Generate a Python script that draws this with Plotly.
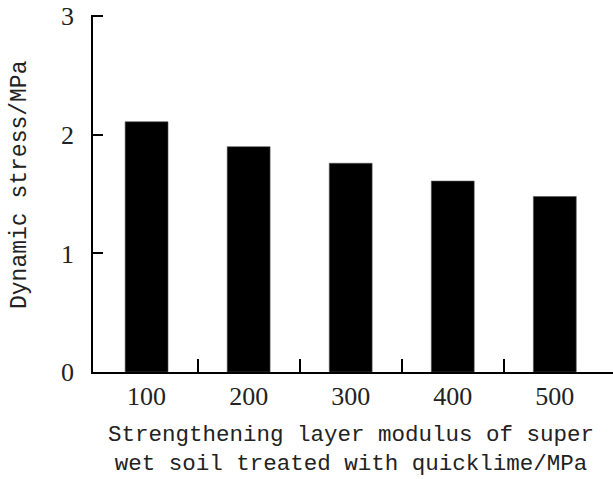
import plotly.graph_objects as go

categories = ["100", "200", "300", "400", "500"]
dynamic_stress = [2.11, 1.90, 1.76, 1.61, 1.48]
y_ticks = [0, 1, 2, 3]

x_pos = list(range(len(categories)))
dividers = [i + 0.5 for i in x_pos[:-1]]

PLOT_L, PLOT_R, PLOT_T, PLOT_B = 93, 613, 15, 372

fig = go.Figure()
fig.add_trace(go.Bar(
    x=x_pos, y=dynamic_stress, width=0.42,
    marker=dict(color="black", line=dict(color="#555", width=0.6)),
))

fig.update_layout(
    width=613, height=479,
    margin=dict(l=PLOT_L, r=0, t=PLOT_T, b=479 - PLOT_B, autoexpand=False),
    plot_bgcolor="white", paper_bgcolor="white",
    showlegend=False,
    xaxis=dict(
        range=[-0.525, 4.57], automargin=False,
        tickmode="array", tickvals=x_pos, ticktext=categories,
        ticks="", showgrid=False, zeroline=False,
        showline=True, linecolor="black", linewidth=1.5,
        tickfont=dict(family="Liberation Serif", size=26, color="#222"),
        ticklabeloverflow="allow",
        minor=dict(tickmode="array", tickvals=dividers, ticks="inside",
                   ticklen=13, tickwidth=1.5, tickcolor="black", showgrid=False),
    ),
    yaxis=dict(
        range=[0, 3.01], tickmode="array", tickvals=y_ticks, automargin=False,
        ticks="inside", ticklen=10, tickwidth=1.5, tickcolor="black",
        showgrid=False, zeroline=False,
        showline=True, linecolor="black", linewidth=1.5,
        tickfont=dict(family="Liberation Serif", size=26, color="#222"),
        ticklabelstandoff=12, ticklabeloverflow="allow",
    ),
    annotations=[
        dict(text="Dynamic stress/MPa", x=20, xref="paper", y=185, yref="paper",
             showarrow=False, textangle=-90,
             font=dict(family="Liberation Mono", size=23, color="#222")),
        dict(text="Strengthening layer modulus of super<br>wet soil treated with quicklime/MPa",
             x=351, y=449, xref="paper", yref="paper", showarrow=False,
             font=dict(family="Liberation Mono", size=22.5, color="#222")),
    ],
)

# convert page-pixel annotation positions to paper coords
pw, ph = PLOT_R - PLOT_L, PLOT_B - PLOT_T
for a in fig.layout.annotations:
    a.x = (a.x - PLOT_L) / pw
    a.y = (PLOT_B - a.y) / ph
    a.xanchor = "center"
    a.yanchor = "middle"

fig.write_html("out.html", config={"displayModeBar": False},
               post_script="document.body.style.margin='0';")
